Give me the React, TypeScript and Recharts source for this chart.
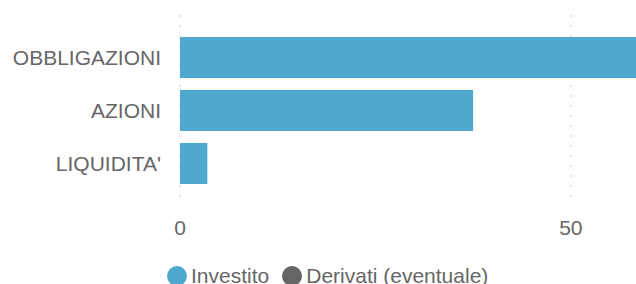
import { BarChart, Bar, XAxis, YAxis, CartesianGrid, Legend } from "recharts";

const categories = ["OBBLIGAZIONI", "AZIONI", "LIQUIDITA'"];
const investito = [59, 37.5, 3.5];
const derivati = [0, 0, 0];
const xTicks = [0, 50];
const seriesNames = ["Investito", "Derivati (eventuale)"];
const seriesColors = ["#4fa8ce", "#666666"];

const data = categories.map((name, i) => ({
  name,
  investito: investito[i],
  derivati: derivati[i],
}));

const FONT = "'Liberation Sans', Arial, sans-serif";

const LegendContent = () => (
  <div style={{ display: "flex", alignItems: "center", fontFamily: FONT, fontSize: 21, color: "#666", whiteSpace: "nowrap" }}>
    {seriesNames.map((n, i) => (
      <div key={n} style={{ display: "flex", alignItems: "center", marginRight: i === 0 ? 13 : 0 }}>
        <span style={{ width: 20, height: 20, borderRadius: 10, background: seriesColors[i], display: "inline-block", marginRight: 4 }} />
        <span>{n}</span>
      </div>
    ))}
  </div>
);

export default function App() {
  return (
    <div style={{ width: 636, height: 284, overflow: "hidden", position: "relative" }}>
      <style>{"body{margin:0}"}</style>
      <div style={{ position: "absolute", left: 8, top: 8 }}>
        <BarChart
          width={641}
          height={282}
          data={data}
          layout="vertical"
          margin={{ top: 7, right: 0, bottom: 63, left: 0 }}
          style={{ fontFamily: FONT }}
        >
          <CartesianGrid horizontal={false} stroke="#c8c8c8" strokeDasharray="2 8" />
          <XAxis
            type="number"
            domain={[0, 60]}
            ticks={xTicks}
            axisLine={false}
            tickLine={false}
            tickMargin={17}
            height={30}
            tick={{ fontSize: 21, fill: "#666" }}
            interval={0}
          />
          <YAxis
            type="category"
            dataKey="name"
            width={172}
            axisLine={false}
            tickLine={false}
            tickMargin={13}
            padding={{ top: 16, bottom: 7 }}
            tick={{ fontSize: 21, fill: "#666" }}
          />
          <Legend
            layout="horizontal"
            verticalAlign="middle"
            align="center"
            content={() => <LegendContent />}
            wrapperStyle={{ position: "absolute", left: 159, top: 256, width: "auto", height: "auto" }}
          />
          <Bar dataKey="investito" name={seriesNames[0]} stackId="a" fill={seriesColors[0]} barSize={41} isAnimationActive={false} />
          <Bar dataKey="derivati" name={seriesNames[1]} stackId="a" fill={seriesColors[1]} barSize={41} isAnimationActive={false} />
        </BarChart>
      </div>
    </div>
  );
}
